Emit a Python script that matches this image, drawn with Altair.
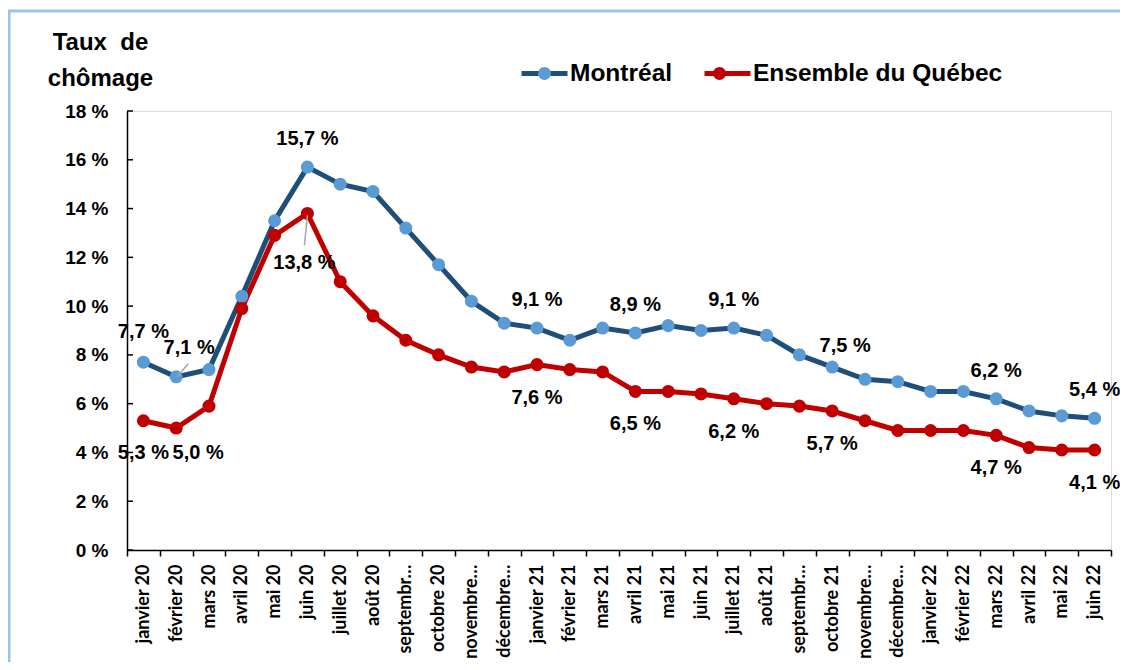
import altair as alt
import pandas as pd

months = [
    "janvier 20", "février 20", "mars 20", "avril 20", "mai 20", "juin 20",
    "juillet 20", "août 20", "septembre 20", "octobre 20", "novembre 20", "décembre 20",
    "janvier 21", "février 21", "mars 21", "avril 21", "mai 21", "juin 21",
    "juillet 21", "août 21", "septembre 21", "octobre 21", "novembre 21", "décembre 21",
    "janvier 22", "février 22", "mars 22", "avril 22", "mai 22", "juin 22",
]
montreal = [7.7, 7.1, 7.4, 10.4, 13.5, 15.7, 15.0, 14.7, 13.2, 11.7, 10.2, 9.3,
            9.1, 8.6, 9.1, 8.9, 9.2, 9.0, 9.1, 8.8, 8.0, 7.5, 7.0, 6.9,
            6.5, 6.5, 6.2, 5.7, 5.5, 5.4]
quebec = [5.3, 5.0, 5.9, 9.9, 12.9, 13.8, 11.0, 9.6, 8.6, 8.0, 7.5, 7.3,
          7.6, 7.4, 7.3, 6.5, 6.5, 6.4, 6.2, 6.0, 5.9, 5.7, 5.3, 4.9,
          4.9, 4.9, 4.7, 4.2, 4.1, 4.1]
series_names = ["Montréal", "Ensemble du Québec"]
labeled_months = ["janvier 20", "février 20", "juin 20", "janvier 21", "avril 21",
                  "juillet 21", "octobre 21", "mars 22", "juin 22"]
y_ticks = [0, 2, 4, 6, 8, 10, 12, 14, 16, 18]
y_title = ["Taux\u00a0 de", "chômage"]

# styles
line_colors = ["#1F4E79", "#C00000"]
point_colors = ["#5B9BD5", "#C00000"]
FONT = "Liberation Sans"

# label pixel offsets (style): (serie, month) -> (dx, dy)
label_offsets = {
    ("Montréal", "janvier 20"): (0, -30),
    ("Montréal", "février 20"): (13, -29),
    ("Montréal", "octobre 21"): (13, -21),
    ("Ensemble du Québec", "janvier 20"): (0, 32),
    ("Ensemble du Québec", "février 20"): (22, 25),
    ("Ensemble du Québec", "juin 20"): (-3, 50),
}
default_offsets = {"Montréal": (0, -28), "Ensemble du Québec": (0, 33)}
# leader lines (style): (serie, month) -> (x offset start, y offset start, x offset end, y offset end)
leaders = {
    ("Montréal", "février 20"): (1, 0, 12, -13),
    ("Ensemble du Québec", "juin 20"): (0, 2, -3, 32),
}

rows = []
for m, a, b in zip(months, montreal, quebec):
    for s, v in ((series_names[0], a), (series_names[1], b)):
        rows.append({"mois": m, "serie": s, "serie_pt": s, "taux": v,
                     "label": f"{v:.1f}".replace(".", ",") + " %",
                     "ordre": series_names.index(s)})
df = pd.DataFrame(rows)

x_enc = alt.X(
    "mois:N", sort=months,
    scale=alt.Scale(type="band", paddingInner=0, paddingOuter=0),
    axis=alt.Axis(
        title=None, labelAngle=-90, tickBand="extent", tickSize=6, tickColor="black",
        tickWidth=1.5, domainColor="black", domainWidth=1.5, labelPadding=8,
        labelFont="Lato", labelFontSize=18, labelFontWeight="bold", labelColor="black",
        labelExpr="length(datum.label) > 10 ? substring(datum.label, 0, 8) + '…' : datum.label",
    ),
)
y_enc = alt.Y(
    "taux:Q",
    scale=alt.Scale(domain=[0, 18], nice=False),
    axis=alt.Axis(
        values=y_ticks, labelExpr="datum.value + ' %'", tickSize=0, grid=False,
        domainColor="black", domainWidth=1.5, labelFont=FONT, labelFontSize=19,
        labelFontWeight="bold", labelColor="black", labelPadding=19,
        title=y_title, titleAngle=0, titleAlign="center", titleBaseline="alphabetic",
        titleX=-27, titleY=-62, titleFont=FONT, titleFontSize=24, titleFontWeight="bold",
        titleLineHeight=36, titleColor="black",
    ),
)

base = alt.Chart(df)

legend_common = dict(
    orient="none", legendX=392, legendY=-63, direction="horizontal", title=None,
    symbolSize=2116, symbolStrokeWidth=5, labelFont=FONT, labelFontSize=24.5,
    labelFontWeight="bold", labelOffset=0, columnPadding=21, padding=0, labelLimit=500,
)

lines = base.mark_line(strokeWidth=5).encode(
    x=x_enc, y=y_enc,
    stroke=alt.Stroke("serie:N", scale=alt.Scale(domain=series_names, range=line_colors),
                      legend=alt.Legend(symbolType="stroke", labelColor="black", **legend_common)),
    order="ordre:Q",
)

circle_path = "M -0.28,0 A 0.28,0.28 0 1,0 0.28,0 A 0.28,0.28 0 1,0 -0.28,0 Z"
points = base.mark_circle(size=170, opacity=1).encode(
    x=x_enc, y=y_enc,
    fill=alt.Fill("serie_pt:N", scale=alt.Scale(domain=series_names, range=point_colors),
                  legend=alt.Legend(symbolType=circle_path, labelColor="transparent",
                                    symbolStrokeColor="transparent", symbolOpacity=1,
                                    **legend_common)),
)

layers = [lines, points]

# leader lines
for (s, m), (x1, y1, x2, y2) in leaders.items():
    layers.append(
        base.transform_filter((alt.datum.serie == s) & (alt.datum.mois == m))
        .mark_rule(color="#A6A6A6", strokeWidth=1.5, xOffset=x1, yOffset=y1,
                   x2Offset=x2, y2Offset=y2)
        .encode(x=x_enc, x2="mois:N", y=y_enc, y2="taux:Q")
    )

# data labels
for s in series_names:
    for m in labeled_months:
        dx, dy = label_offsets.get((s, m), default_offsets[s])
        layers.append(
            base.transform_filter((alt.datum.serie == s) & (alt.datum.mois == m))
            .mark_text(font=FONT, fontSize=20, fontWeight="bold", color="black",
                       dx=dx, dy=dy, baseline="middle", align="center")
            .encode(x=x_enc, y=y_enc, text="label:N")
        )

# inward y ticks
ticks_df = pd.DataFrame({"tick": y_ticks})
layers.append(
    alt.Chart(ticks_df).mark_rule(color="black", strokeWidth=1.5).encode(
        x=alt.value(0), x2=alt.value(6), y=alt.Y("tick:Q", scale=alt.Scale(domain=[0, 18], nice=False))
    )
)

# outer frame
frame_df = pd.DataFrame({"f": [0]})
layers.append(
    alt.Chart(frame_df).mark_rect(fill=None, stroke="#9DC3E6", strokeWidth=3).encode(
        x=alt.value(-118), x2=alt.value(1010), y=alt.value(-100), y2=alt.value(570)
    )
)

chart = alt.layer(*layers).resolve_scale(stroke="independent", fill="independent").properties(
    width=984, height=439,
    autosize=alt.AutoSizeParams(type="none"),
    padding={"left": 119, "top": 103, "right": 9, "bottom": 112},
).configure_view(stroke=None).configure(background="white")

chart.save("out.html", embed_options={"renderer": "svg", "actions": False})
